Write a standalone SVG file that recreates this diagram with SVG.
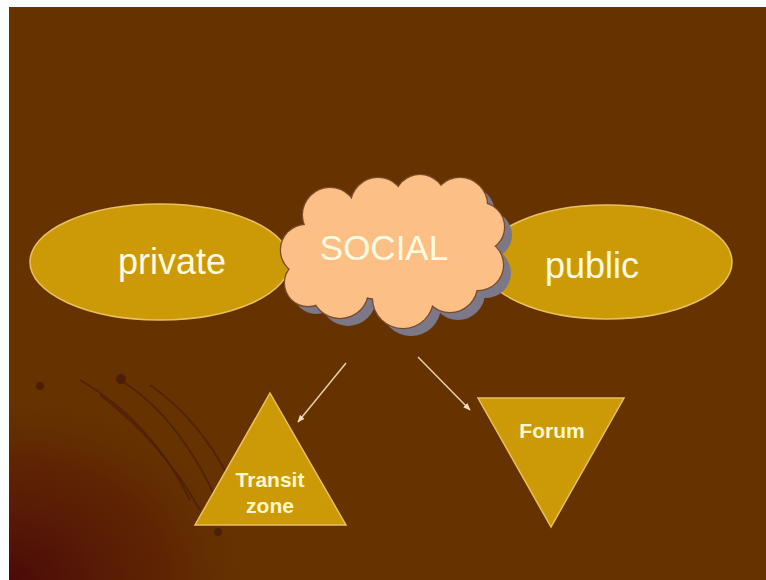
<svg xmlns="http://www.w3.org/2000/svg" width="766" height="580" viewBox="0 0 766 580">
<defs>
<style>
.oval{fill:#CC9A06;stroke:#E8C060;stroke-width:1.5}
.big{font-family:"Liberation Sans",Arial,sans-serif;font-size:36px;fill:#FFFBE0;text-anchor:middle}
.small{font-family:"Liberation Sans",Arial,sans-serif;font-size:21px;font-weight:bold;fill:#FFF8CC;text-anchor:middle}
.tri{fill:#CC9A06;stroke:#E8C060;stroke-width:1.5}
.conn{stroke:#E8CFA8;stroke-width:1.5;fill:none;marker-end:url(#ah)}
.swoosh{fill:none;stroke:#4E1E08;stroke-width:2;opacity:0.8}
</style>
<radialGradient id="corner" cx="0" cy="1" r="1" gradientUnits="objectBoundingBox">
<stop offset="0" stop-color="#4A0A08"/>
<stop offset="0.6" stop-color="#5A1A05" stop-opacity="0.6"/>
<stop offset="1" stop-color="#663300" stop-opacity="0"/>
</radialGradient>
<marker id="ah" viewBox="0 0 10 10" refX="9" refY="5" markerWidth="5" markerHeight="5" orient="auto">
<path d="M0,1 L10,5 L0,9 Z" fill="#F0DCC0"/>
</marker>
<g id="cloudshape">
<circle cx="330" cy="215" r="27"/>
<circle cx="378" cy="205" r="27"/>
<circle cx="420" cy="200" r="25"/>
<circle cx="460" cy="205" r="27"/>
<circle cx="480" cy="227" r="24"/>
<circle cx="478" cy="265" r="25"/>
<circle cx="450" cy="285" r="27"/>
<circle cx="403" cy="298" r="30"/>
<circle cx="340" cy="290" r="28"/>
<circle cx="308" cy="283" r="23"/>
<circle cx="306" cy="250" r="25"/>
<ellipse cx="395" cy="250" rx="85" ry="50"/>
</g>
</defs>
<rect x="0" y="0" width="766" height="580" fill="#FFFFFF"/>
<rect x="9" y="7" width="757" height="573" fill="#663300"/>
<rect x="9" y="380" width="260" height="200" fill="url(#corner)"/>
<g id="decor">
<path class="swoosh" d="M120,380 Q185,420 225,520"/>
<path class="swoosh" d="M100,395 Q160,440 200,510"/>
<path class="swoosh" d="M80,380 Q150,420 190,500"/>
<path class="swoosh" d="M150,385 Q200,420 230,480"/>
<circle cx="40" cy="386" r="4" fill="#4E1E08"/>
<circle cx="121" cy="379" r="5" fill="#4E1E08"/>
<circle cx="218" cy="532" r="4" fill="#4E1E08"/>
</g>
<g id="private">
<ellipse class="oval" cx="160" cy="262" rx="130" ry="58"/>
<text class="big" x="172" y="274">private</text>
</g>
<g id="public">
<ellipse class="oval" cx="607" cy="262" rx="125" ry="57"/>
<text class="big" x="592" y="278">public</text>
</g>
<g id="social">
<use href="#cloudshape" transform="translate(8,8)" fill="#7C7888"/>
<use href="#cloudshape" fill="#FCBF86" stroke="#7A4A2A" stroke-width="2.5"/>
<use href="#cloudshape" fill="#FCBF86"/>
<text class="big" x="384" y="260" style="font-size:35px">SOCIAL</text>
</g>
<g id="connectors">
<line class="conn" x1="346" y1="363" x2="298" y2="422"/>
<line class="conn" x1="418" y1="357" x2="470" y2="410"/>
</g>
<g id="transit">
<polygon class="tri" points="270,393 346,525 195,525"/>
<text class="small" x="270" y="487">Transit</text>
<text class="small" x="270" y="513">zone</text>
</g>
<g id="forum">
<polygon class="tri" points="478,398 624,398 551,527"/>
<text class="small" x="552" y="438">Forum</text>
</g>
</svg>
